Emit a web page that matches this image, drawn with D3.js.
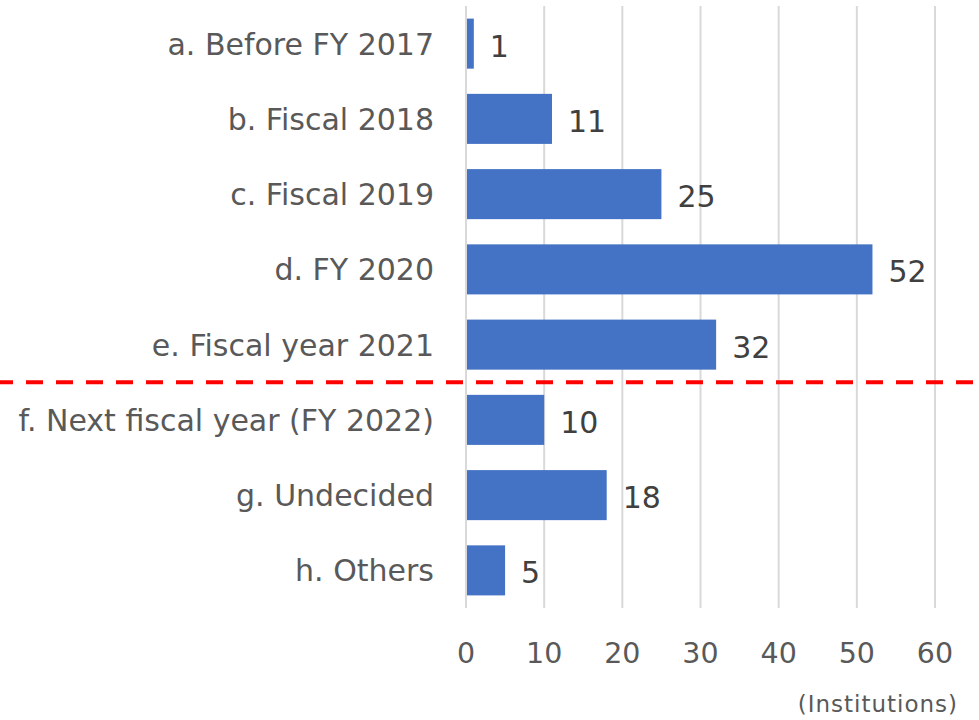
<!DOCTYPE html>
<html>
<head>
<meta charset="utf-8">
<script src="https://cdn.jsdelivr.net/npm/d3@7"></script>
<style>
  html, body { margin: 0; padding: 0; background: #fff; }
  svg { display: block; }
</style>
</head>
<body>
<script>
// Institutions by timing category
const categories = [
  "a. Before FY 2017",
  "b. Fiscal 2018",
  "c. Fiscal 2019",
  "d. FY 2020",
  "e. Fiscal year 2021",
  "f. Next fiscal year (FY 2022)",
  "g. Undecided",
  "h. Others"
];
const values = [1, 11, 25, 52, 32, 10, 18, 5];
const xTicks = [0, 10, 20, 30, 40, 50, 60];
const unitLabel = "(Institutions)";
const dividerAfter = "e. Fiscal year 2021";

const W = 979, H = 720;
const margin = { left: 466, right: 44, top: 6, bottom: 112 };
const font = "'DejaVu Sans', Verdana, sans-serif";

const svg = d3.select("body").append("svg")
  .attr("width", W).attr("height", H);

const x = d3.scaleLinear().domain([0, 60]).range([margin.left, W - margin.right]);
const y = d3.scaleBand().domain(categories)
  .range([margin.top, H - margin.bottom])
  .paddingInner(0.335).paddingOuter(0.1675);
const mid = c => y(c) + y.bandwidth() / 2;

// vertical gridlines
svg.append("g").selectAll("line").data(xTicks).join("line")
  .attr("x1", d => x(d)).attr("x2", d => x(d))
  .attr("y1", margin.top).attr("y2", H - margin.bottom)
  .attr("stroke", "#d9d9d9").attr("stroke-width", 2);

// bars
svg.append("g").selectAll("rect").data(values).join("rect")
  .attr("x", x(0) + 1)
  .attr("y", (d, i) => y(categories[i]))
  .attr("width", d => x(d) - x(0) - 1)
  .attr("height", y.bandwidth())
  .attr("fill", "#4472c4");

// value labels
svg.append("g").selectAll("text").data(values).join("text")
  .attr("x", d => x(d) + 16)
  .attr("y", (d, i) => mid(categories[i]) + 13)
  .attr("font-family", font).attr("font-size", 30)
  .attr("fill", "#404040")
  .text(d => d);

// category axis labels
svg.append("g").selectAll("text").data(categories).join("text")
  .attr("x", 434)
  .attr("y", d => mid(d) + 11)
  .attr("text-anchor", "end")
  .attr("font-family", font).attr("font-size", 30)
  .attr("fill", "#595959")
  .text(d => d);

// x tick labels
svg.append("g").selectAll("text").data(xTicks).join("text")
  .attr("x", d => x(d))
  .attr("y", 663)
  .attr("text-anchor", "middle")
  .attr("font-family", font).attr("font-size", 28.5)
  .attr("fill", "#595959")
  .text(d => d);

// unit label
svg.append("text")
  .attr("x", 958).attr("y", 712)
  .attr("text-anchor", "end")
  .attr("font-family", font).attr("font-size", 23)
  .attr("letter-spacing", 1)
  .attr("fill", "#595959")
  .text(unitLabel);

// red dashed divider between e and f
const i = categories.indexOf(dividerAfter);
const yDiv = (y(categories[i]) + y.bandwidth() + y(categories[i + 1])) / 2;
svg.append("line")
  .attr("x1", 0).attr("x2", W)
  .attr("y1", yDiv).attr("y2", yDiv)
  .attr("stroke", "#ff0000").attr("stroke-width", 4)
  .attr("stroke-dasharray", "17 13")
  .attr("stroke-dashoffset", 4);
</script>
</body>
</html>
